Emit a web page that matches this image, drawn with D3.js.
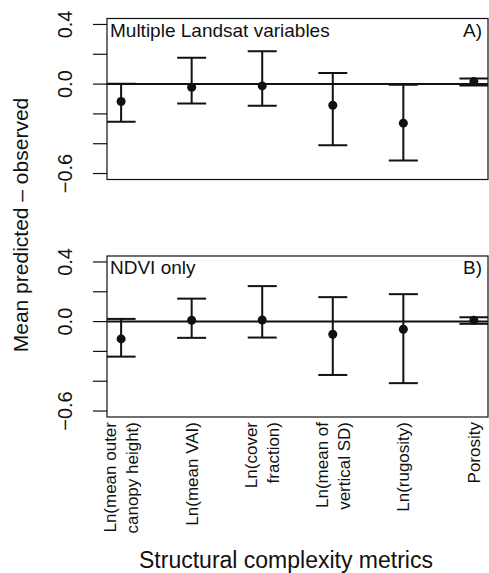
<!DOCTYPE html>
<html>
<head>
<meta charset="utf-8">
<script src="https://cdn.jsdelivr.net/npm/d3@7"></script>
<style>
  body { margin: 0; background: #fff; }
  svg { display: block; font-family: "Liberation Sans", Arial, Helvetica, sans-serif; }
</style>
</head>
<body>
<svg width="489" height="573"></svg>
<script>
(function() {
  // metric names, one entry per x position (lines of the rotated labels)
  let metrics = [
    ['Ln(mean outer', 'canopy height)'],
    ['Ln(mean VAI)'],
    ['Ln(cover', 'fraction)'],
    ['Ln(mean of', 'vertical SD)'],
    ['Ln(rugosity)'],
    ['Porosity']
  ];

  // panel A: multiple Landsat variables
  let meanA = [-0.117, -0.021, -0.012, -0.142, -0.262, 0.017];
  let lowA = [-0.253, -0.130, -0.146, -0.410, -0.512, -0.010];
  let highA = [0.003, 0.177, 0.220, 0.075, -0.005, 0.037];

  // panel B: NDVI only
  let meanB = [-0.116, 0.009, 0.011, -0.085, -0.051, 0.009];
  let lowB = [-0.235, -0.109, -0.107, -0.358, -0.413, -0.015];
  let highB = [0.018, 0.154, 0.238, 0.164, 0.184, 0.029];

  let yTicks = [-0.6, -0.4, -0.2, 0.0, 0.2, 0.4];
  let yTickLabels = {'0.4': '0.4', '0': '0.0', '-0.6': '\u22120.6'};

  let svg = d3.select('svg');

  let x = d3.scaleLinear()
    .domain([0.8, 6.2])
    .range([107, 488]);

  let panels = [
    {title: 'Multiple Landsat variables', tag: 'A)', top: 18.5, bottom: 179.5,
      mean: meanA, low: lowA, high: highA},
    {title: 'NDVI only', tag: 'B)', top: 256, bottom: 417,
      mean: meanB, low: lowB, high: highB}
  ];

  panels.forEach(function(p, pi) {
    let y = d3.scaleLinear()
      .domain([-0.64, 0.44])
      .range([p.bottom, p.top]);

    let g = svg.append('g').attr('class', 'panel');

    g.append('clipPath')
      .attr('id', 'clip' + pi)
      .append('rect')
      .attr('x', x.range()[0])
      .attr('y', p.top)
      .attr('width', x.range()[1] - x.range()[0])
      .attr('height', p.bottom - p.top);

    // frame
    g.append('rect')
      .attr('x', x.range()[0])
      .attr('y', p.top)
      .attr('width', x.range()[1] - x.range()[0])
      .attr('height', p.bottom - p.top)
      .attr('fill', 'none')
      .attr('stroke', '#111')
      .attr('stroke-width', 1.2);

    // y ticks
    g.selectAll('line.tick')
      .data(yTicks)
      .enter().append('line')
      .attr('class', 'tick')
      .attr('x1', x.range()[0] - 14)
      .attr('x2', x.range()[0])
      .attr('y1', function(d) { return y(d); })
      .attr('y2', function(d) { return y(d); })
      .attr('stroke', '#111')
      .attr('stroke-width', 1.2);

    g.selectAll('text.tlab')
      .data(yTicks.filter(function(d) { return yTickLabels[String(d)]; }))
      .enter().append('text')
      .attr('class', 'tlab')
      .attr('transform', function(d) {
        return 'translate(72,' + y(d) + ') rotate(-90)';
      })
      .attr('text-anchor', 'middle')
      .attr('font-size', 20)
      .attr('fill', '#111')
      .text(function(d) { return yTickLabels[String(d)]; });

    let plot = g.append('g').attr('clip-path', 'url(#clip' + pi + ')');

    // zero reference line
    plot.append('line')
      .attr('x1', x.range()[0])
      .attr('x2', x.range()[1])
      .attr('y1', y(0))
      .attr('y2', y(0))
      .attr('stroke', '#111')
      .attr('stroke-width', 2);

    let idx = d3.range(p.mean.length);

    plot.selectAll('line.bar')
      .data(idx)
      .enter().append('line')
      .attr('class', 'bar')
      .attr('x1', function(i) { return x(i + 1); })
      .attr('x2', function(i) { return x(i + 1); })
      .attr('y1', function(i) { return y(p.low[i]); })
      .attr('y2', function(i) { return y(p.high[i]); })
      .attr('stroke', '#111')
      .attr('stroke-width', 2);

    ['low', 'high'].forEach(function(k) {
      plot.selectAll('line.cap-' + k)
        .data(idx)
        .enter().append('line')
        .attr('class', 'cap-' + k)
        .attr('x1', function(i) { return x(i + 1) - 14.5; })
        .attr('x2', function(i) { return x(i + 1) + 14.5; })
        .attr('y1', function(i) { return y(p[k][i]); })
        .attr('y2', function(i) { return y(p[k][i]); })
        .attr('stroke', '#111')
        .attr('stroke-width', 2);
    });

    plot.selectAll('circle')
      .data(idx)
      .enter().append('circle')
      .attr('cx', function(i) { return x(i + 1); })
      .attr('cy', function(i) { return y(p.mean[i]); })
      .attr('r', 4.5)
      .attr('fill', '#111');

    g.append('text')
      .attr('x', x.range()[0] + 3)
      .attr('y', p.top + 18)
      .attr('font-size', 19)
      .attr('fill', '#111')
      .text(p.title);

    g.append('text')
      .attr('x', x.range()[1] - 6)
      .attr('y', p.top + 18)
      .attr('text-anchor', 'end')
      .attr('font-size', 19)
      .attr('fill', '#111')
      .text(p.tag);
  });

  // rotated x labels under the bottom panel
  let labels = svg.append('g').attr('class', 'xlabels');
  metrics.forEach(function(lines, i) {
    let cx = x(i + 1);
    lines.forEach(function(line, j) {
      let off = lines.length === 1 ? 6 : (j === 0 ? -5 : 17);
      labels.append('text')
        .attr('transform', 'translate(' + (cx + off) + ',422) rotate(-90)')
        .attr('text-anchor', 'end')
        .attr('font-size', 17)
        .attr('fill', '#111')
        .text(line);
    });
  });

  svg.append('text')
    .attr('x', 286)
    .attr('y', 568)
    .attr('text-anchor', 'middle')
    .attr('font-size', 23)
    .attr('fill', '#111')
    .text('Structural complexity metrics');

  svg.append('text')
    .attr('transform', 'translate(28,225) rotate(-90)')
    .attr('text-anchor', 'middle')
    .attr('font-size', 21)
    .attr('fill', '#111')
    .text('Mean predicted \u2013 observed');
})();
</script>
</body>
</html>
